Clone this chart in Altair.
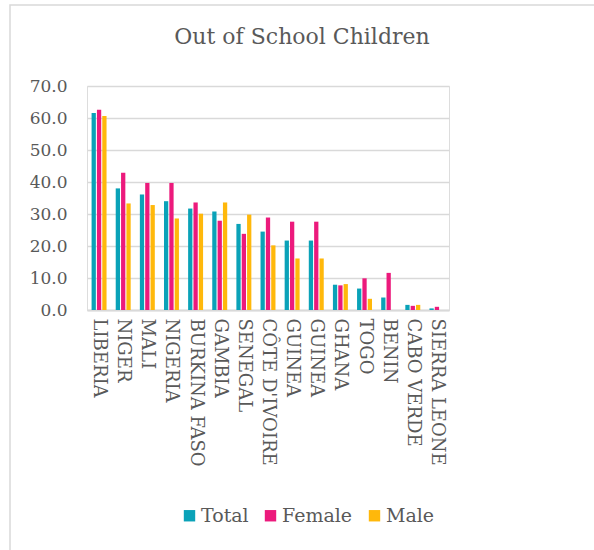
import altair as alt
import pandas as pd

countries = ["LIBERIA", "NIGER", "MALI", "NIGERIA", "BURKINA FASO", "GAMBIA", "SENEGAL",
             "CÔTE D'IVOIRE", "GUINEA", "GUINEA ", "GHANA", "TOGO", "BENIN", "CABO VERDE",
             "SIERRA LEONE"]
total = [61.6, 38.0, 36.1, 34.0, 31.7, 30.8, 26.9, 24.5, 21.7, 21.7, 7.9, 6.7, 3.9, 1.6, 0.5]
female = [62.6, 42.9, 39.7, 39.7, 33.6, 27.9, 23.8, 28.9, 27.6, 27.6, 7.7, 9.9, 11.6, 1.3, 1.0]
male = [60.6, 33.3, 32.8, 28.6, 30.1, 33.6, 29.8, 20.2, 16.1, 16.1, 8.1, 3.5, 0.0, 1.6, 0.0]
series = ["Total", "Female", "Male"]
colors = ["#0AA2B8", "#EC1A7C", "#FFB80B"]
title_text = "Out of School Children"

rows = []
for i, c in enumerate(countries):
    for s, vals in zip(series, [total, female, male]):
        rows.append({"country": c, "series": s, "value": vals[i]})
df = pd.DataFrame(rows)

FONT = "DejaVu Serif"
GRAY = "#595959"

bars = alt.Chart(df).mark_bar().encode(
    x=alt.X("country:N", sort=countries, title=None,
            scale=alt.Scale(paddingInner=0.38, paddingOuter=0.19),
            axis=alt.Axis(labelAngle=90, labelFontSize=18, labelColor=GRAY, labelFont=FONT,
                          ticks=False, domainColor="#D9D9D9", domainWidth=2, labelPadding=8,
                          labelExpr="trim(datum.label)")),
    xOffset=alt.XOffset("series:N", sort=series, scale=alt.Scale(paddingInner=0.2)),
    y=alt.Y("value:Q", title=None,
            scale=alt.Scale(domain=[0, 70]),
            axis=alt.Axis(values=[0, 10, 20, 30, 40, 50, 60, 70], format=".1f",
                          labelFontSize=17, labelColor=GRAY, labelFont=FONT, ticks=False,
                          domain=False, gridColor="#D9D9D9", gridWidth=1.5, labelPadding=20)),
    color=alt.Color("series:N", sort=series,
                    scale=alt.Scale(domain=series, range=colors),
                    legend=alt.Legend(title=None, orient="none", direction="horizontal",
                                      legendX=93, legendY=420, symbolType="square",
                                      symbolSize=130, symbolStrokeWidth=0,
                                      labelFontSize=19, labelColor=GRAY, labelFont=FONT,
                                      columnPadding=12, labelOffset=2)),
)

frame = alt.Chart(pd.DataFrame({"a": [0]})).mark_rect(
    fill=None, stroke="#D9D9D9", strokeWidth=1.5
).encode(x=alt.value(-77), x2=alt.value(520), y=alt.value(-81), y2=alt.value(470))

title = alt.Chart(pd.DataFrame({"t": [title_text]})).mark_text(
    font=FONT, fontSize=22, color=GRAY, align="center", baseline="alphabetic"
).encode(text="t:N", x=alt.value(215), y=alt.value(-42))

chart = alt.layer(frame, bars, title).properties(
    width=362, height=224,
    autosize=alt.AutoSizeParams(type="none"),
    padding={"left": 87, "top": 86, "right": 145, "bottom": 240},
).configure_view(stroke=None).configure(background="white")

chart.save("out.html", embed_options={"renderer": "svg", "actions": False})
